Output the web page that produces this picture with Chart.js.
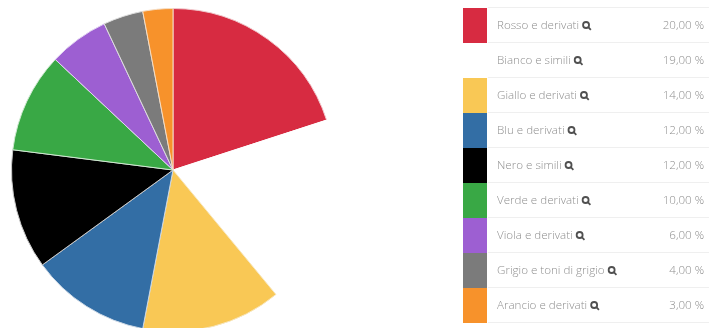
<!DOCTYPE html>
<html>
<head>
<meta charset="utf-8">
<script src="https://cdn.jsdelivr.net/npm/chart.js@4"></script>
<style>
  html, body { margin: 0; padding: 0; background: #fff; overflow: hidden; }
  #wrap { position: absolute; left: 0; top: 0; width: 709px; height: 340px; }
</style>
</head>
<body>
<div id="wrap"><canvas id="pieChart" width="709" height="340"></canvas></div>
<script>
const categories = ['Rosso e derivati', 'Bianco e simili', 'Giallo e derivati', 'Blu e derivati', 'Nero e simili', 'Verde e derivati', 'Viola e derivati', 'Grigio e toni di grigio', 'Arancio e derivati'];
const shares = [20, 19, 14, 12, 12, 10, 6, 4, 3];
const sliceColors = ['#d72b41', '#ffffff', '#f9c855', '#336ea5', '#000000', '#39a845', '#9d5fd2', '#7b7b7b', '#f7922b'];
const sliceBorders = ['#f0c8cc', '#ffffff', '#f7e6bd', '#c9d6e4', '#c8c8c8', '#cde8cf', '#e2d3f2', '#dcdcdc', '#f5dcc2'];

// tabella a destra (legenda con percentuali)
const legendTable = {
    id: 'legendTable',
    afterDraw(chart) {
        const ctx = chart.ctx;
        const top = 8, rowH = 35;
        ctx.save();
        ctx.strokeStyle = '#efefef';
        ctx.lineWidth = 1;
        ctx.beginPath();
        ctx.moveTo(488, top - 0.5);
        ctx.lineTo(709, top - 0.5);
        ctx.stroke();
        categories.forEach(function (name, i) {
            const y = top + i * rowH;
            ctx.fillStyle = sliceColors[i];
            ctx.fillRect(463, y, 24, rowH);
            ctx.strokeStyle = '#efefef';
            ctx.lineWidth = 1;
            ctx.beginPath();
            ctx.moveTo(488, y + rowH - 0.5);
            ctx.lineTo(709, y + rowH - 0.5);
            ctx.stroke();

            const mid = y + rowH / 2 + 0.5;
            ctx.font = '300 11.6px "Open Sans"';
            ctx.textBaseline = 'middle';
            ctx.textAlign = 'left';
            ctx.fillStyle = '#8f8f8f';
            ctx.fillText(name, 497, mid);
            const w = ctx.measureText(name).width;

            // lente
            const cx = 497 + w + 7, cy = mid - 1;
            ctx.strokeStyle = '#505050';
            ctx.lineWidth = 1.8;
            ctx.beginPath();
            ctx.arc(cx, cy, 3, 0, Math.PI * 2);
            ctx.stroke();
            ctx.beginPath();
            ctx.moveTo(cx + 2.2, cy + 2.2);
            ctx.lineTo(cx + 4.8, cy + 4.8);
            ctx.stroke();

            ctx.textAlign = 'right';
            ctx.fillStyle = '#8f8f8f';
            ctx.fillText(shares[i].toFixed(2).replace('.', ',') + ' %', 704, mid);
        });
        ctx.restore();
    }
};

new Chart(document.getElementById('pieChart'), {
    type: 'pie',
    data: {
        labels: categories,
        datasets: [{
            data: shares,
            backgroundColor: sliceColors,
            borderColor: sliceBorders,
            borderWidth: 1,
        }],
    },
    options: {
        responsive: false,
        animation: false,
        layout: { padding: { left: 11, top: 8, right: 374, bottom: 8 } },
        plugins: {
            legend: { display: false },
            tooltip: { enabled: false },
        },
    },
    plugins: [legendTable],
});
</script>
</body>
</html>
